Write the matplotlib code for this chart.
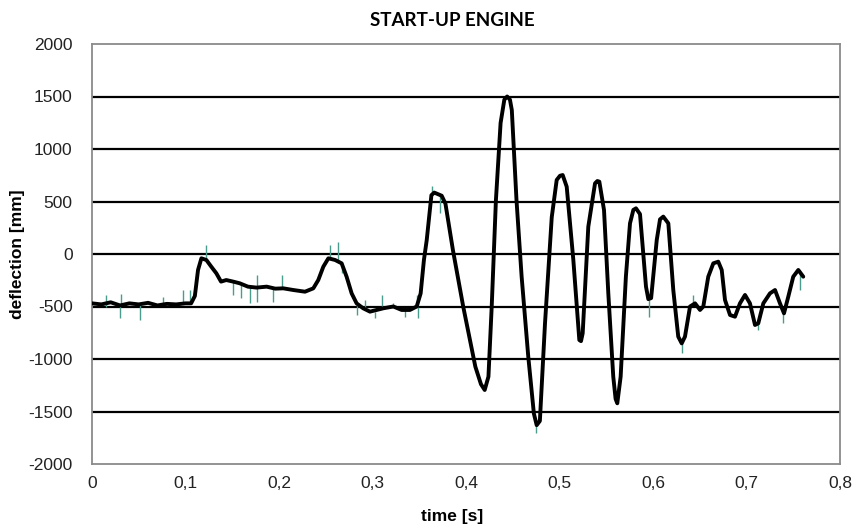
import numpy as np
import matplotlib.pyplot as plt
from matplotlib.ticker import FuncFormatter

# smoothed deflection signal, time [s] / deflection [mm]
time = [0.000, 0.010, 0.020, 0.030, 0.040, 0.050, 0.060, 0.070, 0.080, 0.090,
        0.100, 0.106, 0.110, 0.1134, 0.117, 0.1223, 0.1276, 0.133, 0.138, 0.1436,
        0.151, 0.158, 0.1668, 0.176, 0.1868, 0.196, 0.2046, 0.2153, 0.2278, 0.2367,
        0.242, 0.2474, 0.2528, 0.260, 0.267, 0.2723, 0.2777, 0.283, 0.290, 0.2973,
        0.3045, 0.3116, 0.3223, 0.3312, 0.340, 0.3473, 0.3515, 0.355, 0.358, 0.363,
        0.366, 0.370, 0.374, 0.378, 0.386, 0.397, 0.410, 0.416, 0.420, 0.424,
        0.4275, 0.432, 0.437, 0.441, 0.444, 0.447, 0.449, 0.454, 0.4595, 0.4666,
        0.4726, 0.4756, 0.479, 0.4845, 0.4917, 0.497, 0.5005, 0.5034, 0.5077, 0.5148,
        0.5212, 0.5230, 0.5248, 0.5308, 0.538, 0.5405, 0.5426, 0.5476, 0.5522, 0.5575,
        0.5600, 0.5618, 0.5654, 0.571, 0.5754, 0.5790, 0.5818, 0.5861, 0.5925, 0.595,
        0.598, 0.604, 0.6075, 0.611, 0.6164, 0.6217, 0.627, 0.6307, 0.6342, 0.6396,
        0.645, 0.6503, 0.6538, 0.6591, 0.6645, 0.6698, 0.6735, 0.677, 0.6824, 0.6877,
        0.693, 0.6984, 0.7037, 0.7091, 0.7126, 0.718, 0.7251, 0.7305, 0.7358, 0.7401,
        0.7447, 0.750, 0.7554, 0.7607]
deflection = [-470, -480, -460, -490, -470, -480, -465, -490, -475, -480,
              -470, -470, -400, -152, -41, -57, -121, -184, -263, -248,
              -263, -279, -311, -320, -311, -330, -327, -343, -359, -327,
              -248, -121, -41, -57, -89, -216, -375, -470, -517, -549,
              -533, -517, -500, -533, -533, -500, -375, -57, 133, 560,
              585, 570, 555, 480, 38, -500, -1073, -1240, -1295, -1168,
              -500, 514, 1248, 1470, 1500, 1470, 1371, 514, -216, -978,
              -1520, -1630, -1590, -660, 350, 705, 745, 752, 641, -57,
              -819, -830, -755, 260, 673, 695, 689, 419, -375, -1168,
              -1380, -1422, -1168, -216, 292, 420, 435, 380, -311, -430,
              -420, 133, 330, 356, 292, -343, -787, -851, -787, -500,
              -470, -533, -500, -216, -89, -73, -152, -438, -581, -597,
              -470, -390, -470, -676, -660, -470, -375, -343, -470, -565,
              -406, -216, -152, -216]

# raw signal spikes: time, lower and upper end
spike_t = [0.015, 0.0296, 0.0313, 0.051, 0.076, 0.0973, 0.1045, 0.1223, 0.1508, 0.1594,
           0.1687, 0.1761, 0.1939, 0.2029, 0.2545, 0.2634, 0.267, 0.2831, 0.292, 0.3027,
           0.3098, 0.3222, 0.3348, 0.3473, 0.3487, 0.3636, 0.3722, 0.4749, 0.5957, 0.631,
           0.6428, 0.7123, 0.739, 0.7572]
spike_lo = [-500, -610, -480, -630, -480, -480, -480, -57, -390, -420,
            -470, -454, -454, -327, -41, -70, -184, -581, -520, -610,
            -520, -500, -600, -500, -610, 560, 390, -1700, -597, -946,
            -470, -724, -660, -343]
spike_hi = [-390, -480, -380, -480, -410, -340, -340, 86, -263, -279,
            -311, -200, -311, -200, 86, 117, -89, -470, -438, -549,
            -390, -470, -533, -390, -500, 650, 570, -1612, -438, -851,
            -390, -660, -565, -160]

xticks = [0, 0.1, 0.2, 0.3, 0.4, 0.5, 0.6, 0.7, 0.8]
yticks = [-2000, -1500, -1000, -500, 0, 500, 1000, 1500, 2000]

plt.rcParams['font.family'] = ['Liberation Sans', 'DejaVu Sans']

fig = plt.figure(figsize=(8.67, 5.28), dpi=100)
ax = fig.add_axes([92 / 867, 64 / 528, 748 / 867, 420 / 528])

# horizontal grid inside the frame
ax.hlines(yticks[1:-1], 0, 0.8, color='black', lw=1.6, zorder=1)

ax.plot(time, deflection, color='#3f9484', lw=1.0, zorder=2)
ax.vlines(spike_t, spike_lo, spike_hi, color='#4a9c8c', lw=1.0, zorder=2)
ax.plot(time, deflection, color='black', lw=2.8, zorder=3,
        solid_joinstyle='round', solid_capstyle='round')

ax.set_xlim(0, 0.8)
ax.set_ylim(-2000, 2000)
ax.set_xticks(xticks)
ax.set_yticks(yticks)
ax.xaxis.set_major_formatter(FuncFormatter(lambda v, p: ('%g' % v).replace('.', ',')))
ax.yaxis.set_major_formatter(FuncFormatter(lambda v, p: '%d' % v))
ax.tick_params(length=0, labelsize=12.5, colors='#222222')
ax.tick_params(axis='y', pad=14)
ax.tick_params(axis='x', pad=9)
for s in ax.spines.values():
    s.set_color('#8a8a8a')
    s.set_linewidth(1.3)

fig.text(452 / 867, 1 - 20 / 528, 'START-UP ENGINE', ha='center', va='center',
         fontsize=13.5, fontweight='bold', family=['Lato', 'DejaVu Sans'])
fig.text(452 / 867, 1 - 516 / 528, 'time [s]', ha='center', va='center',
         fontsize=12.5, fontweight='bold')
fig.text(18 / 867, 1 - 254 / 528, 'deflection [mm]', ha='center', va='center',
         rotation=90, fontsize=12.5, fontweight='bold')

fig.savefig('out.png', dpi=100)
